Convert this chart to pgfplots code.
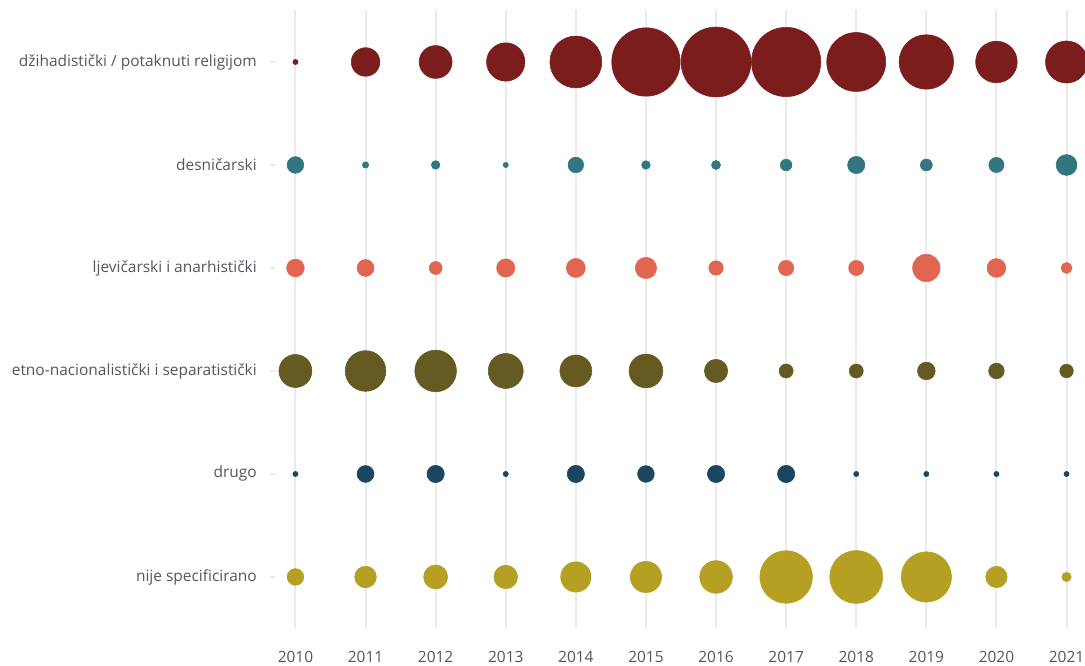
\documentclass[border=0pt]{standalone}
\usepackage{pgfplots}
\usepackage{pgfplotstable}
\pgfplotsset{compat=1.18}
\usepackage{fontspec}
\setmainfont{Open Sans}
\definecolor{cjih}{RGB}{122,29,28}
\definecolor{cdes}{RGB}{50,118,128}
\definecolor{clje}{RGB}{226,101,82}
\definecolor{cetn}{RGB}{101,91,34}
\definecolor{cdru}{RGB}{27,70,96}
\definecolor{cnij}{RGB}{181,160,36}
\definecolor{labelgray}{RGB}{82,86,96}
\definecolor{gridgray}{RGB}{234,234,234}

\pgfplotstableread{
year v
2010 4
2011 120
2012 159
2013 216
2014 395
2015 687
2016 718
2017 705
2018 511
2019 436
2020 254
2021 260
}\tjih
\pgfplotstableread{
year v
2010 41
2011 6
2012 11
2013 4
2014 36
2015 11
2016 12
2017 20
2018 44
2019 21
2020 34
2021 64
}\tdes
\pgfplotstableread{
year v
2010 46
2011 42
2012 25
2013 49
2014 53
2015 67
2016 31
2017 35
2018 34
2019 111
2020 52
2021 18
}\tlje
\pgfplotstableread{
year v
2010 160
2011 243
2012 255
2013 180
2014 150
2015 168
2016 80
2017 29
2018 29
2019 46
2020 36
2021 27
}\tetn
\pgfplotstableread{
year v
2010 4
2011 42
2012 44
2013 4
2014 44
2015 41
2016 44
2017 44
2018 4
2019 4
2020 4
2021 4
}\tdru
\pgfplotstableread{
year v
2010 41
2011 69
2012 85
2013 82
2014 135
2015 144
2016 157
2017 407
2018 412
2019 372
2020 67
2021 13
}\tnij

\pgfplotsset{bub/.style={only marks, mark=*, scatter,
  scatter/use mapped color={draw=#1, fill=#1},
  visualization depends on={0.979*sqrt(\thisrow{v}) \as \rad},
  scatter/@pre marker code/.append style={/tikz/mark size=\rad}}}

\begin{document}
\begin{tikzpicture}[x=1pt,y=1pt]
\useasboundingbox (0,0) rectangle (813.75,498.75);
\begin{axis}[
  at={(206.6pt,27.4pt)}, anchor=south west,
  scale only axis, width=607.5pt, height=463.5pt,
  xmin=2009.715, xmax=2021.27, ymin=-0.5, ymax=5.5, y dir=reverse,
  xtick={2010,2011,2012,2013,2014,2015,2016,2017,2018,2019,2020,2021},
  xticklabels={2010,2011,2012,2013,2014,2015,2016,2017,2018,2019,2020,2021},
  ytick={0,1,2,3,4,5},
  yticklabels={džihadistički / potaknuti religijom, desničarski, ljevičarski i anarhistički, etno-nacionalistički i separatistički, drugo, nije specificirano},
  axis line style={draw=none},
  xmajorgrids, grid style={draw=gridgray, line width=1.5pt},
  xtick style={draw=none},
  ytick style={draw=gridgray, line width=0.8pt},
  tick align=outside, major tick length=4pt,
  ticklabel style={font=\fontsize{11.6}{13}\selectfont, text=labelgray},
  xticklabel style={yshift=-9.5pt},
  yticklabel style={xshift=-6.5pt},
  clip=false,
]
\addplot[bub=cjih] table[x=year, y expr=0]{\tjih};
\addplot[bub=cdes] table[x=year, y expr=1]{\tdes};
\addplot[bub=clje] table[x=year, y expr=2]{\tlje};
\addplot[bub=cetn] table[x=year, y expr=3]{\tetn};
\addplot[bub=cdru] table[x=year, y expr=4]{\tdru};
\addplot[bub=cnij] table[x=year, y expr=5]{\tnij};
\end{axis}
\end{tikzpicture}
\end{document}
